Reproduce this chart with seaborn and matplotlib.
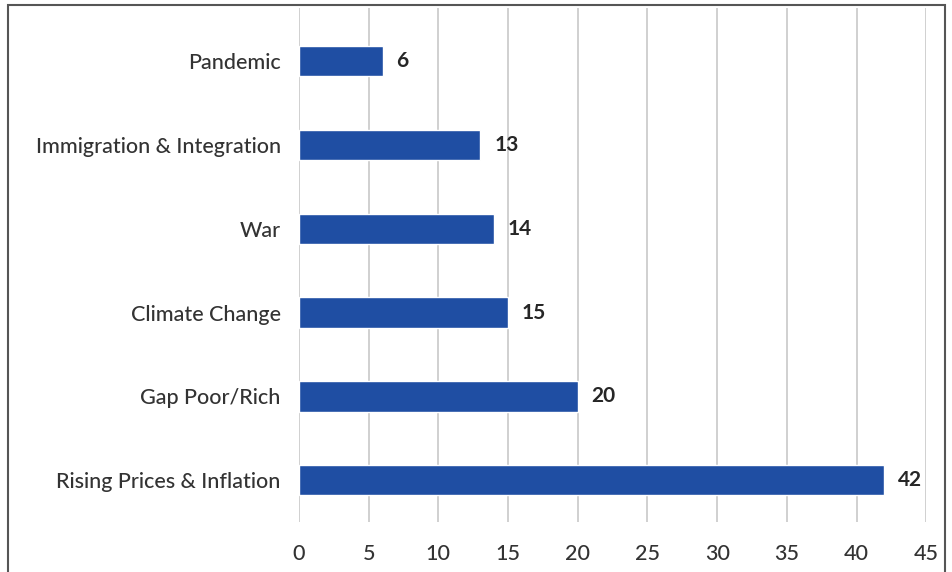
import pandas as pd
import matplotlib.pyplot as plt
import seaborn as sns
from matplotlib.patches import Rectangle

categories = ["Pandemic", "Immigration & Integration", "War", "Climate Change",
              "Gap Poor/Rich", "Rising Prices & Inflation"]
values = [6, 13, 14, 15, 20, 42]
x_ticks = [0, 5, 10, 15, 20, 25, 30, 35, 40, 45]

df = pd.DataFrame({"Issue": categories, "Count": values})

sns.set_style("white")
plt.rcParams["font.family"] = ["Lato", "DejaVu Sans"]

fig = plt.figure(figsize=(9.52, 5.72), dpi=100)
ax = fig.add_axes([0.314, 0.087, 0.659, 0.899])

sns.barplot(data=df, y="Issue", x="Count", orient="h", color="#1f4ea3",
            saturation=1, width=0.36, ax=ax, zorder=3)

for i, v in enumerate(values):
    ax.text(v + 1.0, i, str(v), va="center", ha="left", fontsize=15,
            fontweight="bold", color="#262626")

ax.set_xlim(0, 45)
ax.set_ylim(5.5, -0.63)
ax.set_xticks(x_ticks)
ax.xaxis.grid(True, color="#c8c8c8", linewidth=1.2, zorder=0)
ax.set_xlabel("")
ax.set_ylabel("")
ax.tick_params(axis="both", length=0, labelsize=15.5, colors="#333333")
ax.tick_params(axis="x", pad=16)
ax.tick_params(axis="y", pad=13)
for lab in ax.get_yticklabels() + ax.get_xticklabels():
    lab.set_fontweight("medium")
for s in ax.spines.values():
    s.set_visible(False)

fig.patches.append(Rectangle((8 / 952, -0.02), 937 / 952, 1 - 5 / 572 + 0.02,
                             transform=fig.transFigure, fill=False,
                             edgecolor="#555555", linewidth=1.5))

fig.savefig("out.png", dpi=100)
